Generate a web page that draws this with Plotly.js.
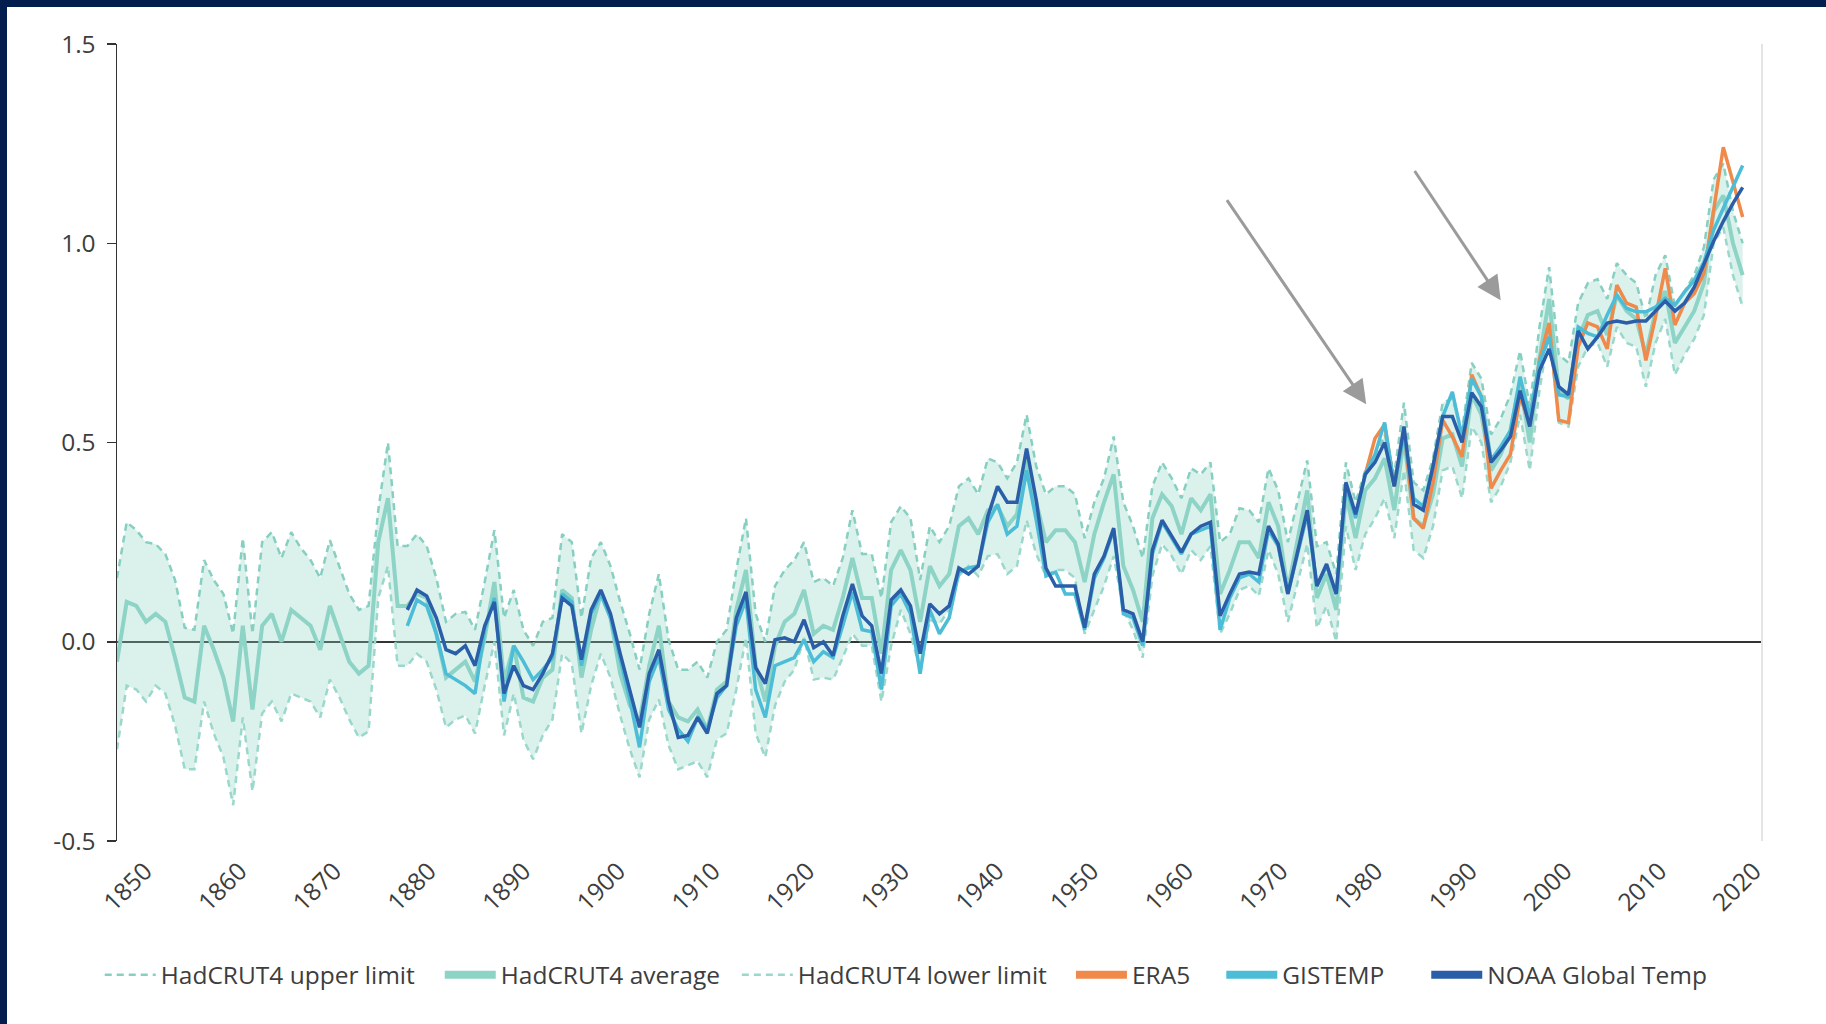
<!DOCTYPE html>
<html>
<head>
<meta charset="utf-8">
<script src="https://cdn.plot.ly/plotly-3.0.1.min.js"></script>
<style>
  html, body { margin: 0; padding: 0; background: #031d4f; width: 1826px; height: 1024px; overflow: hidden; }
  #chart { position: absolute; left: 7px; top: 7px; width: 1819px; height: 1017px; background: #ffffff; }
</style>
</head>
<body>
<div id="chart"></div>
<script>
// Global mean near-surface temperature anomaly (deg C), annual values.
const hadYears = [];
for (let y = 1850; y <= 2018; y++) hadYears.push(y);
const gisYears = hadYears.filter(y => y >= 1880);
const era5Years = hadYears.filter(y => y >= 1979);

const hadAverage = [
  -0.05, 0.10, 0.09, 0.05, 0.07, 0.05, -0.04, -0.14, -0.15, 0.04,
  -0.02, -0.09, -0.20, 0.04, -0.17, 0.04, 0.07, 0.00, 0.08, 0.06,
  0.04, -0.02, 0.09, 0.02, -0.05, -0.08, -0.06, 0.25, 0.36, 0.09,
  0.09, 0.12, 0.11, 0.02, -0.09, -0.07, -0.05, -0.10, 0.01, 0.15,
  -0.10, -0.01, -0.14, -0.15, -0.09, -0.07, 0.13, 0.11, -0.09, 0.03,
  0.12, 0.06, -0.08, -0.16, -0.20, -0.06, 0.04, -0.15, -0.19, -0.20,
  -0.17, -0.22, -0.12, -0.10, 0.08, 0.18, -0.06, -0.15, -0.01, 0.05,
  0.07, 0.13, 0.02, 0.04, 0.03, 0.11, 0.21, 0.11, 0.11, -0.03,
  0.18, 0.23, 0.18, 0.05, 0.19, 0.14, 0.17, 0.29, 0.31, 0.27,
  0.33, 0.34, 0.29, 0.32, 0.46, 0.35, 0.25, 0.28, 0.28, 0.25,
  0.15, 0.27, 0.35, 0.42, 0.19, 0.13, 0.05, 0.31, 0.37, 0.34,
  0.27, 0.36, 0.33, 0.37, 0.12, 0.18, 0.25, 0.25, 0.21, 0.35,
  0.29, 0.13, 0.26, 0.38, 0.11, 0.17, 0.08, 0.37, 0.26, 0.38,
  0.41, 0.46, 0.33, 0.51, 0.31, 0.29, 0.37, 0.51, 0.52, 0.44,
  0.62, 0.57, 0.43, 0.47, 0.53, 0.65, 0.50, 0.71, 0.86, 0.63,
  0.61, 0.76, 0.82, 0.83, 0.77, 0.87, 0.83, 0.81, 0.72, 0.83,
  0.88, 0.75, 0.79, 0.83, 0.90, 1.08, 1.12, 1.00, 0.92
];

const hadUpper = [
  0.16, 0.30, 0.28, 0.25, 0.245, 0.22, 0.155, 0.035, 0.03, 0.205,
  0.155, 0.12, 0.02, 0.26, 0.02, 0.25, 0.275, 0.21, 0.275, 0.235,
  0.205, 0.16, 0.255, 0.19, 0.12, 0.08, 0.09, 0.33, 0.50, 0.24,
  0.24, 0.27, 0.24, 0.16, 0.05, 0.07, 0.075, 0.03, 0.15, 0.28,
  0.06, 0.13, 0.03, -0.01, 0.05, 0.06, 0.27, 0.25, 0.06, 0.21,
  0.25, 0.19, 0.10, 0.02, -0.07, 0.07, 0.17, 0.005, -0.07, -0.07,
  -0.05, -0.09, 0.00, 0.03, 0.18, 0.31, 0.07, 0.00, 0.14, 0.18,
  0.205, 0.25, 0.15, 0.16, 0.14, 0.21, 0.33, 0.22, 0.22, 0.11,
  0.30, 0.34, 0.31, 0.155, 0.29, 0.25, 0.29, 0.39, 0.41, 0.37,
  0.46, 0.45, 0.41, 0.45, 0.57, 0.44, 0.37, 0.39, 0.39, 0.37,
  0.26, 0.35, 0.41, 0.515, 0.35, 0.29, 0.21, 0.39, 0.45, 0.41,
  0.36, 0.435, 0.42, 0.45, 0.25, 0.27, 0.335, 0.33, 0.30, 0.435,
  0.38, 0.25, 0.35, 0.455, 0.24, 0.25, 0.17, 0.45, 0.35, 0.43,
  0.46, 0.52, 0.42, 0.60, 0.40, 0.38, 0.46, 0.60, 0.61, 0.53,
  0.70, 0.66, 0.52, 0.56, 0.62, 0.73, 0.59, 0.79, 0.94, 0.72,
  0.70, 0.85, 0.90, 0.91, 0.86, 0.95, 0.92, 0.90, 0.81, 0.92,
  0.97, 0.84, 0.88, 0.92, 0.99, 1.16, 1.20, 1.08, 1.00
];

const hadLower = [
  -0.27, -0.11, -0.12, -0.15, -0.11, -0.13, -0.21, -0.32, -0.32, -0.15,
  -0.23, -0.29, -0.41, -0.19, -0.375, -0.18, -0.15, -0.20, -0.13, -0.14,
  -0.15, -0.19, -0.095, -0.14, -0.195, -0.24, -0.225, 0.11, 0.19, -0.06,
  -0.06, -0.03, -0.05, -0.12, -0.215, -0.195, -0.185, -0.23, -0.11, 0.00,
  -0.235, -0.13, -0.245, -0.295, -0.235, -0.195, -0.03, -0.055, -0.23, -0.11,
  -0.03, -0.09, -0.185, -0.27, -0.34, -0.195, -0.145, -0.26, -0.32, -0.31,
  -0.30, -0.34, -0.245, -0.23, -0.12, 0.01, -0.23, -0.29, -0.16, -0.10,
  -0.07, 0.01, -0.095, -0.09, -0.095, -0.04, 0.02, -0.01, -0.01, -0.15,
  -0.01, 0.08, 0.02, -0.07, 0.055, 0.045, 0.08, 0.165, 0.19, 0.165,
  0.215, 0.22, 0.17, 0.19, 0.305, 0.22, 0.165, 0.18, 0.18, 0.16,
  0.02, 0.08, 0.14, 0.215, 0.08, 0.03, -0.04, 0.165, 0.245, 0.215,
  0.17, 0.23, 0.205, 0.24, 0.02, 0.07, 0.13, 0.14, 0.115, 0.23,
  0.17, 0.05, 0.145, 0.245, 0.035, 0.09, 0.00, 0.29, 0.18, 0.27,
  0.31, 0.36, 0.26, 0.43, 0.23, 0.21, 0.29, 0.43, 0.44, 0.36,
  0.54, 0.50, 0.35, 0.39, 0.45, 0.57, 0.43, 0.63, 0.78, 0.55,
  0.54, 0.69, 0.74, 0.75, 0.69, 0.79, 0.75, 0.74, 0.64, 0.75,
  0.81, 0.67, 0.72, 0.76, 0.82, 1.00, 1.04, 0.92, 0.84
];

const gistemp = [
  0.04, 0.105, 0.09, 0.02, -0.08, -0.095, -0.11, -0.13, 0.03, 0.11,
  -0.15, -0.01, -0.05, -0.095, -0.07, -0.04, 0.12, 0.10, -0.06, 0.07,
  0.12, 0.06, -0.045, -0.145, -0.265, -0.10, -0.04, -0.17, -0.22, -0.25,
  -0.19, -0.22, -0.14, -0.11, 0.04, 0.105, -0.12, -0.19, -0.06, -0.05,
  -0.04, 0.005, -0.05, -0.025, -0.04, 0.04, 0.125, 0.03, 0.025, -0.12,
  0.09, 0.12, 0.07, -0.08, 0.08, 0.02, 0.06, 0.175, 0.185, 0.19,
  0.30, 0.345, 0.27, 0.29, 0.43, 0.305, 0.165, 0.175, 0.12, 0.12,
  0.03, 0.16, 0.21, 0.28, 0.07, 0.06, -0.01, 0.22, 0.30, 0.26,
  0.22, 0.27, 0.28, 0.29, 0.03, 0.11, 0.16, 0.17, 0.15, 0.28,
  0.24, 0.12, 0.22, 0.32, 0.14, 0.19, 0.12, 0.39, 0.31, 0.42,
  0.47, 0.55, 0.39, 0.52, 0.36, 0.34, 0.44, 0.565, 0.627, 0.515,
  0.66, 0.615, 0.456, 0.49, 0.53, 0.665, 0.565, 0.70, 0.765, 0.62,
  0.615, 0.79, 0.774, 0.765, 0.82, 0.87, 0.837, 0.828, 0.828, 0.84,
  0.862, 0.845, 0.878, 0.907, 0.953, 1.033, 1.088, 1.14, 1.195
];

const noaa = [
  0.08, 0.13, 0.115, 0.06, -0.02, -0.03, -0.01, -0.06, 0.04, 0.10,
  -0.13, -0.06, -0.11, -0.12, -0.08, -0.03, 0.11, 0.09, -0.045, 0.08,
  0.13, 0.07, -0.03, -0.12, -0.215, -0.08, -0.02, -0.15, -0.24, -0.235,
  -0.19, -0.23, -0.13, -0.11, 0.06, 0.125, -0.065, -0.105, 0.005, 0.01,
  0.00, 0.055, -0.015, 0.00, -0.035, 0.065, 0.145, 0.065, 0.04, -0.08,
  0.105, 0.13, 0.09, -0.03, 0.095, 0.07, 0.09, 0.185, 0.17, 0.19,
  0.315, 0.39, 0.35, 0.35, 0.485, 0.355, 0.185, 0.14, 0.14, 0.14,
  0.035, 0.17, 0.215, 0.285, 0.08, 0.07, 0.00, 0.23, 0.305, 0.265,
  0.225, 0.27, 0.29, 0.30, 0.065, 0.12, 0.17, 0.175, 0.17, 0.29,
  0.245, 0.12, 0.23, 0.33, 0.14, 0.195, 0.12, 0.40, 0.32, 0.42,
  0.45, 0.50, 0.39, 0.54, 0.345, 0.33, 0.44, 0.565, 0.565, 0.50,
  0.625, 0.59, 0.45, 0.48, 0.515, 0.63, 0.54, 0.68, 0.735, 0.64,
  0.62, 0.78, 0.735, 0.765, 0.80, 0.805, 0.80, 0.805, 0.805, 0.83,
  0.855, 0.83, 0.85, 0.89, 0.95, 1.005, 1.055, 1.10, 1.14
];

const era5 = [
  0.42, 0.51, 0.545, 0.39, 0.53, 0.31, 0.285, 0.40, 0.556, 0.515,
  0.464, 0.67, 0.615, 0.385, 0.43, 0.47, 0.615, 0.548, 0.706, 0.80,
  0.556, 0.55, 0.74, 0.80, 0.79, 0.735, 0.895, 0.85, 0.84, 0.706,
  0.815, 0.937, 0.795, 0.85, 0.874, 0.925, 1.083, 1.241, 1.154, 1.066
];

const decadeTicks = [1850, 1860, 1870, 1880, 1890, 1900, 1910, 1920, 1930,
  1940, 1950, 1960, 1970, 1980, 1990, 2000, 2010, 2020];
const valueTicks = [-0.5, 0, 0.5, 1.0, 1.5];
const valueTickText = ['-0.5', '0.0', '0.5', '1.0', '1.5'];

const seriesNames = ['HadCRUT4 upper limit', 'HadCRUT4 average', 'HadCRUT4 lower limit',
  'ERA5', 'GISTEMP', 'NOAA Global Temp'];

const colors = {
  upper: '#86cfc1', average: '#8dd3c6', lower: '#9ad8cc',
  era5: '#f08a4b', gistemp: '#4dbdd7', noaa: '#2b5ea8'
};

const textColor = '#3d3d3d';
const fontFamily = '"Open Sans", "DejaVu Sans", sans-serif';
const fontSize = 24.5;
const dashPattern = '7px,5px';

// legend keys for the solid series: drawn thicker than the plotted lines
function legendKey(name, color, legendId) {
  return { x: [null], y: [null], name: name, mode: 'lines', legend: legendId,
    line: { color: color, width: 8 }, hoverinfo: 'skip' };
}

const traces = [
  // uncertainty band: lower edge, then fill up to the upper edge
  { x: hadYears, y: hadLower, mode: 'lines', line: { width: 0 },
    showlegend: false, hoverinfo: 'skip' },
  { x: hadYears, y: hadUpper, mode: 'lines', line: { width: 0 }, fill: 'tonexty',
    fillcolor: 'rgba(143,212,196,0.32)', showlegend: false, hoverinfo: 'skip' },
  { x: hadYears, y: hadAverage, name: seriesNames[1], mode: 'lines', showlegend: false,
    line: { color: colors.average, width: 4 } },
  { x: hadYears, y: hadUpper, name: seriesNames[0], mode: 'lines', legend: 'legend',
    line: { color: colors.upper, width: 2.5, dash: dashPattern } },
  { x: hadYears, y: hadLower, name: seriesNames[2], mode: 'lines', legend: 'legend3',
    line: { color: colors.lower, width: 2.5, dash: dashPattern } },
  { x: era5Years, y: era5, name: seriesNames[3], mode: 'lines', showlegend: false,
    line: { color: colors.era5, width: 3.5 } },
  { x: gisYears, y: gistemp, name: seriesNames[4], mode: 'lines', showlegend: false,
    line: { color: colors.gistemp, width: 3.5 } },
  { x: gisYears, y: noaa, name: seriesNames[5], mode: 'lines', showlegend: false,
    line: { color: colors.noaa, width: 3.5 } },
  legendKey(seriesNames[1], colors.average, 'legend2'),
  legendKey(seriesNames[3], colors.era5, 'legend4'),
  legendKey(seriesNames[4], colors.gistemp, 'legend5'),
  legendKey(seriesNames[5], colors.noaa, 'legend6'),
  // carrier for the year-label axis
  { x: decadeTicks, y: decadeTicks.map(() => null), xaxis: 'x2', yaxis: 'y',
    mode: 'lines', showlegend: false, hoverinfo: 'skip' }
];

const arrowStyle = {
  text: '', showarrow: true, arrowhead: 2, arrowsize: 1.6, arrowwidth: 3,
  arrowcolor: '#9b9b9b', xref: 'x', yref: 'y', axref: 'x', ayref: 'y', standoff: 0
};

// one legend box per entry so each sits at its own place along the bottom row
function legendBox(xPos) {
  return {
    orientation: 'h', x: xPos, xanchor: 'left', y: -0.168, yanchor: 'middle',
    font: { family: fontFamily, size: fontSize, color: textColor },
    itemwidth: 51, bgcolor: 'rgba(0,0,0,0)', borderwidth: 0
  };
}

const layout = {
  width: 1819,
  height: 1017,
  margin: { l: 110, r: 64, t: 37, b: 183 },
  paper_bgcolor: '#ffffff',
  plot_bgcolor: '#ffffff',
  font: { family: fontFamily, size: fontSize, color: textColor },
  showlegend: true,
  xaxis: {
    range: [1850, 2020], showticklabels: false, ticks: '', showline: false,
    showgrid: false, zeroline: false, fixedrange: true
  },
  xaxis2: {
    overlaying: 'x', anchor: 'y', side: 'bottom',
    range: [1847.04, 2020.84], tickmode: 'array', tickvals: decadeTicks,
    ticktext: decadeTicks.map(String), tickangle: -45, ticks: '',
    showline: false, showgrid: false, zeroline: false, ticklabelstandoff: 10,
    tickfont: { family: fontFamily, size: fontSize, color: textColor }
  },
  yaxis: {
    range: [-0.5, 1.5], tickmode: 'array', tickvals: valueTicks, ticktext: valueTickText,
    ticks: 'outside', ticklen: 9, tickwidth: 1.5, tickcolor: '#333333',
    showline: true, linecolor: '#333333', linewidth: 1.5,
    showgrid: false, zeroline: true, zerolinecolor: '#333333', zerolinewidth: 2,
    ticklabelstandoff: 6,
    tickfont: { family: fontFamily, size: fontSize, color: textColor }
  },
  legend: legendBox(-0.0105),
  legend2: legendBox(0.1962),
  legend3: legendBox(0.3768),
  legend4: legendBox(0.5799),
  legend5: legendBox(0.6713),
  legend6: legendBox(0.7959),
  shapes: [
    { type: 'line', xref: 'paper', yref: 'paper', x0: 1, x1: 1, y0: 0, y1: 1,
      line: { color: '#e4e4e4', width: 2 } }
  ],
  annotations: [
    Object.assign({ x: 1979.1, y: 0.596, ax: 1964.6, ay: 1.112 }, arrowStyle),
    Object.assign({ x: 1993.0, y: 0.857, ax: 1984.0, ay: 1.185 }, arrowStyle)
  ]
};

Plotly.newPlot('chart', traces, layout, { displayModeBar: false, staticPlot: true });
</script>
</body>
</html>
